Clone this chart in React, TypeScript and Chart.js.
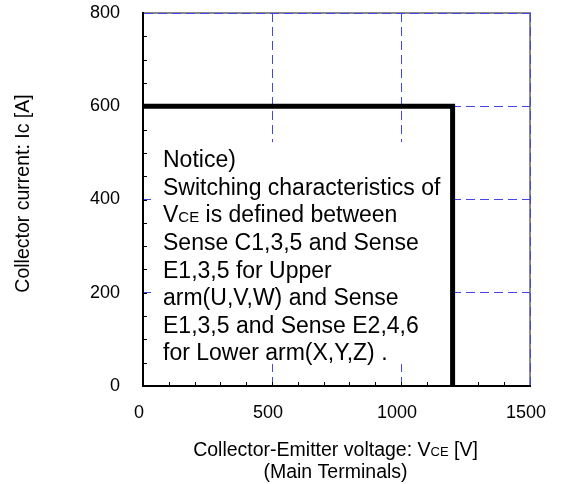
import React, { useEffect, useRef } from "react";
import { Chart, registerables } from "chart.js";

Chart.register(...registerables);

// ---- data ----
const VCE_VALUES = [0, 1200, 1200];
const IC_VALUES = [600, 600, 0];
const X_TICKS = [0, 500, 1000, 1500];
const Y_TICKS = [0, 200, 400, 600, 800];
const X_MINOR_STEP = 100;
const Y_MINOR_STEP = 50;
const Y_TITLE = "Collector current: Ic [A]";
const X_TITLE_1 = [
  { t: "Collector-Emitter voltage: V", small: false },
  { t: "CE", small: true },
  { t: " [V]", small: false },
];
const X_TITLE_2 = "(Main Terminals)";
const NOTICE_LINES: { t: string; small: boolean }[][] = [
  [{ t: "Notice)", small: false }],
  [{ t: "Switching characteristics of", small: false }],
  [
    { t: "V", small: false },
    { t: "CE", small: true },
    { t: " is defined between", small: false },
  ],
  [{ t: "Sense C1,3,5 and Sense", small: false }],
  [{ t: "E1,3,5 for Upper", small: false }],
  [{ t: "arm(U,V,W) and Sense", small: false }],
  [{ t: "E1,3,5 and Sense E2,4,6", small: false }],
  [{ t: "for Lower arm(X,Y,Z) .", small: false }],
];
const NOTICE_TOP_VALUE = 523;
const NOTICE_BOTTOM_VALUE = 47;
const NOTICE_RIGHT_VALUE = 1200;

const FONT = "'Liberation Sans', Arial, sans-serif";
const GRID_BLUE = "#4646e8";

function richWidth(ctx: CanvasRenderingContext2D, segs: { t: string; small: boolean }[], size: number) {
  let w = 0;
  for (const s of segs) {
    ctx.font = `${s.small ? Math.round(size * 0.66) : size}px ${FONT}`;
    w += ctx.measureText(s.t).width;
  }
  return w;
}

function drawRich(
  ctx: CanvasRenderingContext2D,
  segs: { t: string; small: boolean }[],
  x: number,
  y: number,
  size: number
) {
  let cx = x;
  ctx.textAlign = "left";
  ctx.textBaseline = "alphabetic";
  for (const s of segs) {
    ctx.font = `${s.small ? Math.round(size * 0.66) : size}px ${FONT}`;
    ctx.fillText(s.t, cx, y);
    cx += ctx.measureText(s.t).width;
  }
}

const framePlugin = {
  id: "frame",
  beforeDraw(chart: any) {
    const { ctx, chartArea } = chart;
    ctx.save();
    ctx.strokeStyle = "#8a8a8a";
    ctx.lineWidth = 2;
    ctx.strokeRect(chartArea.left, chartArea.top, chartArea.right - chartArea.left, chartArea.bottom - chartArea.top);
    ctx.restore();
  },
  beforeDatasetsDraw(chart: any) {
    const { ctx, scales, chartArea } = chart;
    const xs = scales.x;
    const ys = scales.y;
    const left = chartArea.left + 8;
    const right = xs.getPixelForValue(NOTICE_RIGHT_VALUE);
    const top = ys.getPixelForValue(NOTICE_TOP_VALUE);
    const bottom = ys.getPixelForValue(NOTICE_BOTTOM_VALUE);
    ctx.save();
    ctx.fillStyle = "#ffffff";
    ctx.fillRect(left, top, right - left, bottom - top);
    ctx.fillStyle = "#000";
    const size = 23;
    const lh = 27.6;
    NOTICE_LINES.forEach((segs, i) => {
      drawRich(ctx, segs, left + 12, top + 25 + i * lh, size);
    });
    ctx.restore();
  },
  afterDraw(chart: any) {
    const { ctx, scales, chartArea } = chart;
    const xs = scales.x;
    const ys = scales.y;
    ctx.save();
    ctx.strokeStyle = "#000";
    ctx.lineWidth = 1;
    ctx.beginPath();
    for (let v = xs.min + X_MINOR_STEP; v < xs.max; v += X_MINOR_STEP) {
      const px = Math.round(xs.getPixelForValue(v)) + 0.5;
      ctx.moveTo(px, chartArea.bottom);
      ctx.lineTo(px, chartArea.bottom - 4);
    }
    for (let v = ys.min + Y_MINOR_STEP; v < ys.max; v += Y_MINOR_STEP) {
      const py = Math.round(ys.getPixelForValue(v)) + 0.5;
      ctx.moveTo(chartArea.left, py);
      ctx.lineTo(chartArea.left + 4, py);
    }
    ctx.stroke();

    // axis titles
    ctx.fillStyle = "#000";
    const tsize = 19.5;
    ctx.save();
    ctx.translate(28.5, (chartArea.top + chartArea.bottom) / 2 - 6);
    ctx.rotate(-Math.PI / 2);
    ctx.font = `${tsize}px ${FONT}`;
    ctx.textAlign = "center";
    ctx.textBaseline = "alphabetic";
    ctx.fillText(Y_TITLE, 0, 0);
    ctx.restore();

    const cx = (chartArea.left + chartArea.right) / 2 - 1;
    const w1 = richWidth(ctx, X_TITLE_1, tsize);
    drawRich(ctx, X_TITLE_1, cx - w1 / 2, chartArea.bottom + 70, tsize);
    ctx.font = `${tsize}px ${FONT}`;
    ctx.textAlign = "center";
    ctx.fillText(X_TITLE_2, cx, chartArea.bottom + 92);
    ctx.restore();
  },
};

export default function App() {
  const ref = useRef<HTMLCanvasElement>(null);
  useEffect(() => {
    if (!ref.current) return;
    const chart = new Chart(ref.current, {
      type: "line",
      data: {
        datasets: [
          {
            data: VCE_VALUES.map((x, i) => ({ x, y: IC_VALUES[i] })),
            borderColor: "#000",
            borderWidth: 5,
            pointRadius: 0,
            borderJoinStyle: "miter",
            tension: 0,
            fill: false,
          },
        ],
      },
      options: {
        animation: false,
        responsive: false,
        devicePixelRatio: 1,
        layout: { padding: { top: 13, right: 31, left: 0, bottom: 0 } },
        plugins: { legend: { display: false }, tooltip: { enabled: false }, title: { display: false } },
        scales: {
          x: {
            type: "linear",
            min: 0,
            max: 1500,
            afterBuildTicks: (s: any) => {
              s.ticks = X_TICKS.map((v) => ({ value: v }));
            },
            afterFit: (s: any) => {
              s.height = 98;
              s.paddingLeft = 0;
              s.paddingRight = 0;
            },
            ticks: {
              color: "#000",
              font: { family: FONT, size: 18 },
              padding: 16,
              labelOffset: -4,
              maxRotation: 0,
              autoSkip: false,
              callback: (v: any) => String(v),
            },
            grid: { color: GRID_BLUE, lineWidth: 1, drawTicks: false },
            border: { display: true, color: "#000", width: 2, dash: [9, 5] },
          },
          y: {
            type: "linear",
            min: 0,
            max: 800,
            afterBuildTicks: (s: any) => {
              s.ticks = Y_TICKS.map((v) => ({ value: v }));
            },
            afterFit: (s: any) => {
              s.width = 143;
              s.paddingTop = 0;
              s.paddingBottom = 0;
            },
            ticks: {
              color: "#000",
              font: { family: FONT, size: 18 },
              padding: 23,
              autoSkip: false,
              callback: (v: any) => String(v),
            },
            grid: { color: GRID_BLUE, lineWidth: 1, drawTicks: false },
            border: { display: true, color: "#000", width: 2, dash: [9, 5] },
          },
        },
      },
      plugins: [framePlugin],
    });
    return () => chart.destroy();
  }, []);
  return (
    <div style={{ position: "absolute", left: 0, top: 0, width: 561, height: 484, background: "#fff" }}>
      <canvas ref={ref} width={561} height={484} style={{ display: "block" }} />
    </div>
  );
}
